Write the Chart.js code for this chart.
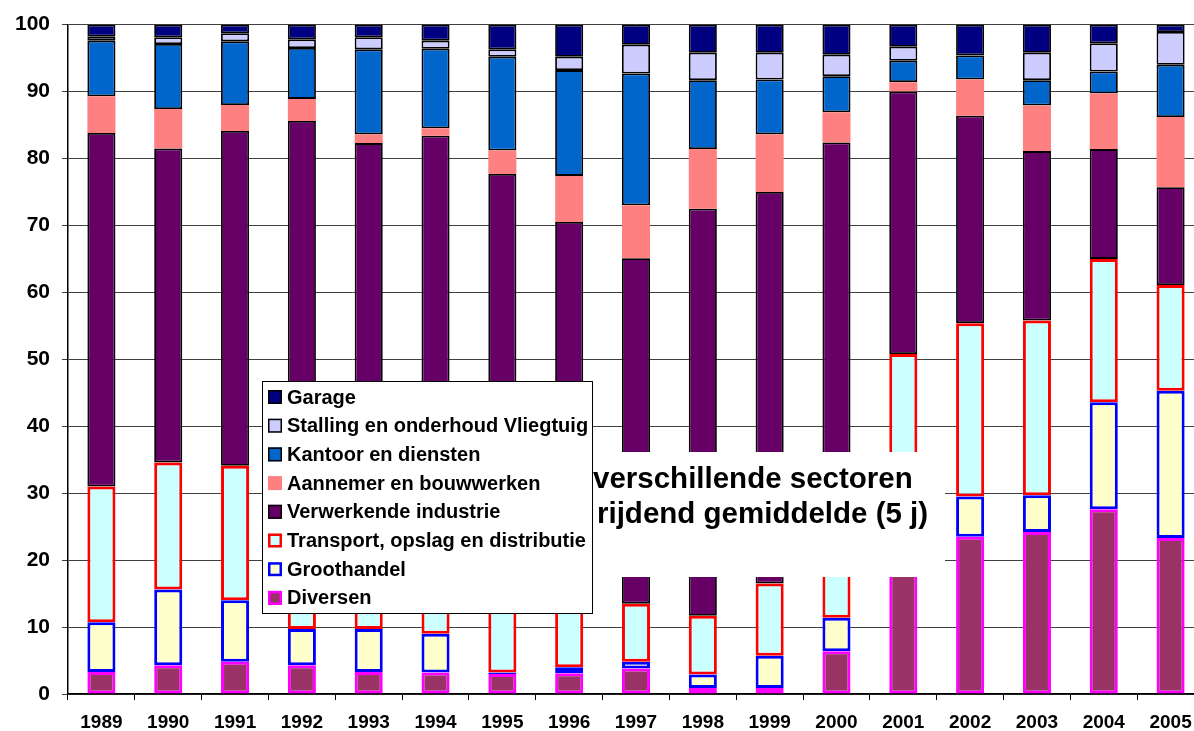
<!DOCTYPE html>
<html>
<head>
<meta charset="utf-8">
<script src="https://cdn.jsdelivr.net/npm/chart.js@4.4.0/dist/chart.umd.min.js"></script>
<style>
  html, body { margin: 0; padding: 0; background: #fff; overflow: hidden; }
  #chart { display: block; }
</style>
</head>
<body>
<!-- plot runs a few pixels past the window on the right, like the original export -->
<canvas id="chart" width="1204" height="731"></canvas>
<script>
const years = ["1989", "1990", "1991", "1992", "1993", "1994", "1995", "1996", "1997",
               "1998", "1999", "2000", "2001", "2002", "2003", "2004", "2005"];

// share per sector (%), bottom of the stack first
const diversen    = [3.3, 4.3, 4.8, 4.3, 3.3, 3.2, 3.0, 3.1, 3.8, 0.9, 0.9, 6.4, 20.0, 23.5, 24.2, 27.6, 23.3];
const groothandel = [7.4, 11.3, 9.2, 5.4, 6.4, 5.8, 0.2, 0.9, 1.0, 2.0, 4.8, 5.0, 5.0, 6.0, 5.5, 16.0, 22.0];
const transport   = [20.3, 19.0, 20.1, 21.3, 17.3, 15.0, 16.8, 12.0, 8.7, 8.8, 10.8, 12.6, 25.8, 25.9, 26.1, 21.4, 15.8];
const verwerkende = [52.8, 46.9, 50.0, 54.6, 55.3, 59.4, 57.7, 54.5, 51.6, 60.8, 58.5, 58.4, 39.2, 31.0, 25.3, 16.4, 14.6];
const aannemer    = [5.5, 5.9, 3.9, 3.3, 1.3, 1.1, 3.5, 6.9, 7.9, 8.9, 8.6, 4.5, 1.4, 5.4, 6.8, 8.3, 10.5];
const kantoor     = [8.3, 9.7, 9.5, 7.6, 12.7, 11.9, 14.0, 15.8, 19.7, 10.3, 8.2, 5.4, 3.2, 3.6, 3.8, 3.3, 7.8];
const stalling    = [0.6, 1.0, 1.2, 1.3, 1.8, 1.2, 1.1, 2.0, 4.3, 4.1, 4.0, 3.2, 2.1, 0.0, 4.1, 4.2, 4.9];
const garage      = [1.8, 1.9, 1.3, 2.2, 1.9, 2.4, 3.7, 4.8, 3.0, 4.2, 4.2, 4.5, 3.3, 4.6, 4.2, 2.8, 1.1];

const yTicks = [0, 10, 20, 30, 40, 50, 60, 70, 80, 90, 100];
const titleLines = ["verschillende sectoren", "rijdend gemiddelde (5 j)"];

const FONT = "'Liberation Sans', Arial, Helvetica, sans-serif";

function series(label, data, bg, border, bw) {
    return {
        label: label,
        data: data,
        backgroundColor: bg,
        borderColor: border,
        borderWidth: bw,
        borderSkipped: false,
        categoryPercentage: 1,
        barPercentage: 0.42
    };
}

const datasets = [
    series("Diversen", diversen, "#993366", "#FF00FF", 3),
    series("Groothandel", groothandel, "#FFFFCC", "#0000FF", 3),
    series("Transport, opslag en distributie", transport, "#CCFFFF", "#FF0000", 3),
    series("Verwerkende industrie", verwerkende, "#660066", "#000000", 1.8),
    series("Aannemer en bouwwerken", aannemer, "#FF8080", "#FF8080", 0),
    series("Kantoor en diensten", kantoor, "#0066CC", "#000000", 1.8),
    series("Stalling en onderhoud Vliegtuig", stalling, "#CCCCFF", "#000000", 1.8),
    series("Garage", garage, "#000080", "#000000", 1.8)
];

// title block and legend sit on top of the bars
const overlay = {
    id: "overlay",
    afterDraw(chart) {
        const ctx = chart.ctx;
        ctx.save();

        ctx.fillStyle = "#fff";
        ctx.fillRect(400, 452, 545, 125);
        ctx.fillStyle = "#000";
        ctx.font = "bold 29.5px " + FONT;
        ctx.textBaseline = "alphabetic";
        ctx.textAlign = "left";
        ctx.fillText(titleLines[0], 593, 488);
        ctx.fillText(titleLines[1], 597, 523);

        const lx = 262, ly = 381, lw = 330, lh = 232;
        ctx.fillStyle = "#fff";
        ctx.fillRect(lx, ly, lw, lh);
        ctx.strokeStyle = "#000";
        ctx.lineWidth = 1;
        ctx.strokeRect(lx + 0.5, ly + 0.5, lw, lh);

        ctx.font = "bold 20px " + FONT;
        ctx.textBaseline = "middle";
        const items = chart.data.datasets.slice().reverse();
        items.forEach((ds, i) => {
            const cy = 397 + i * 28.7;
            ctx.fillStyle = ds.backgroundColor;
            ctx.fillRect(268, cy - 7, 14, 14);
            if (ds.borderWidth > 0) {
                const w = ds.borderWidth > 2 ? 2.5 : 1.5;
                ctx.strokeStyle = ds.borderColor;
                ctx.lineWidth = w;
                ctx.strokeRect(268 + w / 2, cy - 7 + w / 2, 14 - w, 14 - w);
            }
            ctx.fillStyle = "#000";
            ctx.fillText(ds.label, 287, cy + 1);
        });

        ctx.restore();
    }
};

new Chart(document.getElementById("chart"), {
    type: "bar",
    data: { labels: years, datasets: datasets },
    options: {
        responsive: false,
        animation: false,
        layout: { padding: { top: 22, right: 0, left: 0, bottom: 0 } },
        plugins: {
            legend: { display: false },
            tooltip: { enabled: false }
        },
        scales: {
            x: {
                stacked: true,
                grid: { drawOnChartArea: false, drawTicks: true, tickLength: 6, color: "#000", offset: true },
                border: { display: true, color: "#000", width: 1.5 },
                ticks: {
                    color: "#000",
                    font: { family: FONT, size: 19, weight: "bold" },
                    padding: 11,
                    maxRotation: 0,
                    autoSkip: false
                },
                afterFit(scale) { scale.height = 37; }
            },
            y: {
                stacked: true,
                min: 0,
                max: 100,
                afterBuildTicks(scale) { scale.ticks = yTicks.map(v => ({ value: v })); },
                grid: { color: "#404040", lineWidth: 1, drawTicks: true, tickLength: 6 },
                border: { display: true, color: "#000", width: 1.5 },
                ticks: {
                    color: "#000",
                    font: { family: FONT, size: 21, weight: "bold" },
                    padding: 12
                },
                afterFit(scale) { scale.width = 68; }
            }
        }
    },
    plugins: [overlay]
});
</script>
</body>
</html>
